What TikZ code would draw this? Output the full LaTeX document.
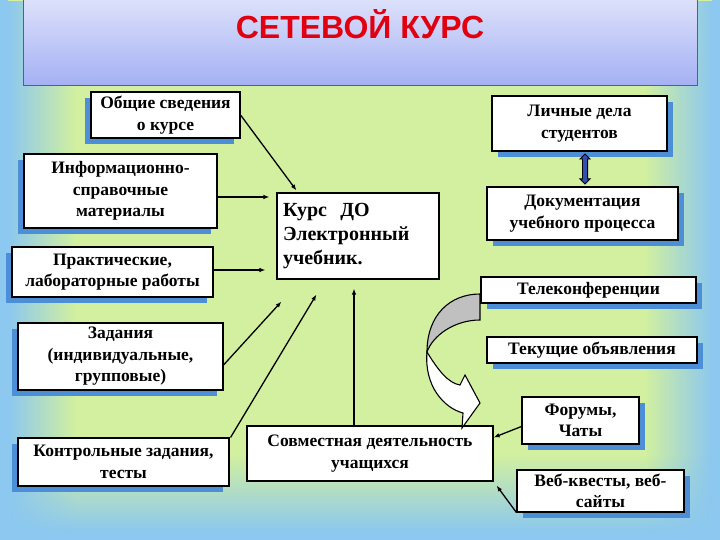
\documentclass[tikz,border=0pt]{standalone}
\usepackage{fontspec}
\setmainfont{Liberation Serif}
\newfontfamily\titlefont{Liberation Sans}
\usetikzlibrary{arrows.meta,shadows,shapes.arrows,fadings,calc}
\definecolor{bggreen}{HTML}{D2F0A0}
\definecolor{bgblue}{HTML}{8CC8F0}
\definecolor{shblue}{HTML}{4D8FD6}
\definecolor{hdtop}{HTML}{DCE0FA}
\definecolor{hdbot}{HTML}{A4B0F4}
\definecolor{hdline}{HTML}{4A5AB8}
\definecolor{titlered}{HTML}{E00010}
\definecolor{arrowblue}{HTML}{3050B0}
\definecolor{curvegray}{HTML}{C0C0C0}
\begin{document}
\begin{tikzpicture}[x=1pt,y=-1pt,
  box/.style={draw=black, line width=1.1pt, fill=white, inner sep=2pt, align=center,
    font=\fontsize{17.5}{21.5}\selectfont\bfseries},
  lshadow/.style={drop shadow={shadow xshift=-6pt, shadow yshift=-6pt, fill=shblue, opacity=1}},
  rshadow/.style={drop shadow={shadow xshift=6pt, shadow yshift=-6pt, fill=shblue, opacity=1}},
  conn/.style={line width=1.3pt, -{Latex[length=6pt,width=4.5pt]}}
]
\useasboundingbox (0,0) rectangle (720,540);
% background
\fill[bggreen] (0,0) rectangle (720,540);
\fill[bgblue] (0,0) rectangle (8,540);
\fill[bgblue, path fading=east] (8,0) rectangle (75,540);
\fill[bgblue] (712,0) rectangle (720,540);
\fill[bgblue, path fading=west] (645,0) rectangle (712,540);
\fill[bgblue] (0,532) rectangle (720,540);
\fill[bgblue, path fading=north] (0,455) rectangle (720,532);
% header
\shadedraw[top color=hdtop, bottom color=hdbot, draw=hdline, line width=1pt] (23,0) rectangle (697,86);
\node[font=\fontsize{32}{38}\selectfont\titlefont\bfseries, text=titlered] (T) at (360,24) {СЕТЕВОЙ КУРС};

% left boxes
\node[box, lshadow, minimum width=149, minimum height=46] (A) at (165.5,115) {Общие сведения\\о курсе};
\node[box, lshadow, minimum width=193, minimum height=74] (B) at (120.5,191) {Информационно-\\справочные\\материалы};
\node[box, lshadow, minimum width=201, minimum height=50] (C) at (112.5,272) {Практические,\\лабораторные работы};
\node[box, lshadow, minimum width=205, minimum height=67] (D) at (120.5,356.5) {Задания\\(индивидуальные,\\групповые)};
\node[box, lshadow, minimum width=211, minimum height=48] (E) at (123.5,462) {Контрольные задания,\\тесты};

% centre boxes
\node[box, font=\fontsize{20}{24}\selectfont\bfseries, align=left, text width=150, inner xsep=6pt,
  minimum height=86] (F) at (358,236) {Курс ~ДО\\Электронный\\учебник.};
\node[box, minimum width=246, minimum height=55] (G) at (370,453.5) {Совместная деятельность\\учащихся};

% right boxes
\node[box, rshadow, minimum width=175, minimum height=55] (H) at (579.5,123.5) {Личные дела\\студентов};
\node[box, rshadow, minimum width=191, minimum height=53] (I) at (582.5,213.5) {Документация\\учебного процесса};
\node[box, rshadow, minimum width=215, minimum height=26, inner ysep=0pt] (J) at (588.5,290) {Телеконференции};
\node[box, rshadow, minimum width=210, minimum height=26, inner ysep=0pt] (K) at (592,350) {Текущие объявления};
\node[box, rshadow, minimum width=117, minimum height=47] (L) at (580.5,420.5) {Форумы,\\Чаты};
\node[box, rshadow, minimum width=167, minimum height=42, inner ysep=0pt] (M) at (600.5,491) {Веб-квесты, веб-\\сайты};

% double arrow between H and I
\node[double arrow, rotate=90, draw=black, fill=arrowblue, line width=0.8pt,
  minimum height=30, minimum width=10, double arrow head extend=2.5pt,
  inner xsep=0pt, inner ysep=2.2pt]
  (HI) at ($(H.south)!0.5!(I.north)+(4,0)$) {};

% connectors into F
\draw[conn] (A.east) -- ($(F.north west)+(20,-2)$);
\draw[conn] ([yshift=-6pt]B.east) -- ([xshift=-7pt,yshift=-6pt]B.east -| F.west);
\draw[conn] ([yshift=2pt]C.east) -- ([xshift=-11pt,yshift=2pt]C.east -| F.west);
\draw[conn] ([yshift=-8.5pt]D.east) -- ($(F.south west)+(5,22)$);
\draw[conn] ([xshift=1pt]E.north east) -- ($(F.south west)+(40,15)$);
\draw[conn] ([xshift=-16pt]G.north) -- ([xshift=-16pt,yshift=-9pt]G.north |- F.south);
% connectors into G
\draw[conn] ([yshift=-6pt]L.west) -- ([yshift=16pt]G.east);
\draw[conn] (M.south west) -- ($(G.south east)+(3,4)$);

% curved block arrow from J to G
\filldraw[fill=curvegray, draw=black, line width=1.1pt]
  (480,294) .. controls (450,294) and (427,315) .. (427,352)
  .. controls (433,335) and (455,320) .. (480,320) -- cycle;
\filldraw[fill=white, draw=black, line width=1.1pt]
  (427,352) .. controls (438,370) and (448,383) .. (460,385)
  -- (465,375) -- (480,403) -- (462,428) -- (463,413)
  .. controls (444,408) and (424,386) .. (427,352) -- cycle;
\end{tikzpicture}
\end{document}
